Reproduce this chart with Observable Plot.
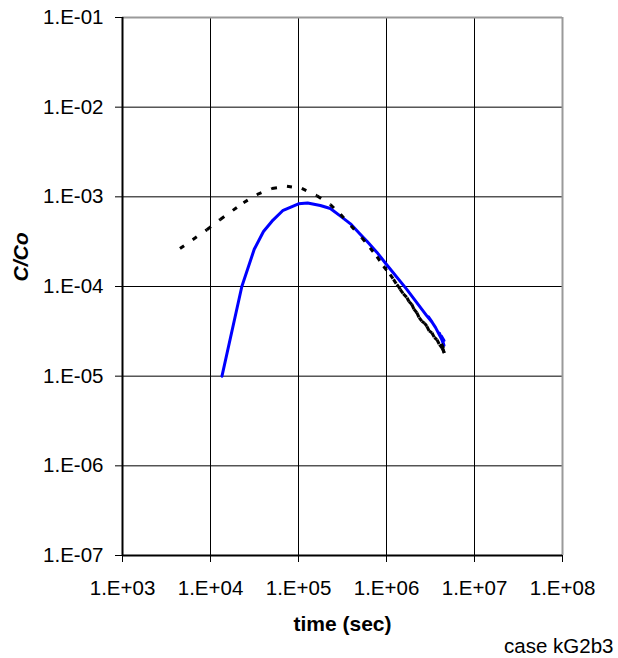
<!DOCTYPE html>
<html>
<head>
<meta charset="utf-8">
<script src="https://cdn.jsdelivr.net/npm/d3@7"></script>
<script src="https://cdn.jsdelivr.net/npm/@observablehq/plot@0.6"></script>
<style>
  body { margin: 0; background: #fff; }
  #chart svg { display: block; }
</style>
</head>
<body>
<div id="chart"></div>
<script>
// Axis ticks and their spreadsheet-style labels
const xTicks = [1e3, 1e4, 1e5, 1e6, 1e7, 1e8];
const xTickLabels = ["1.E+03", "1.E+04", "1.E+05", "1.E+06", "1.E+07", "1.E+08"];
const yTicks = [1e-7, 1e-6, 1e-5, 1e-4, 1e-3, 1e-2, 1e-1];
const yTickLabels = ["1.E-07", "1.E-06", "1.E-05", "1.E-04", "1.E-03", "1.E-02", "1.E-01"];

// Breakthrough curve, solid blue series (time in s, relative concentration)
const solidTime = [1.35e4, 2.27e4, 3.14e4, 4.0e4, 5.0e4, 6.6e4, 1.0e5, 1.27e5, 1.77e5, 2.3e5,
  3.0e5, 3.9e5, 5.0e5, 6.0e5, 7.8e5, 1.0e6, 1.7e6, 2.87e6, 3.3e6, 3.0e6, 3.6e6, 4.4e6,
  4.0e6, 4.5e6, 4.2e6, 4.5e6];
const solidConc = [1.0e-5, 1.0e-4, 2.6e-4, 4.1e-4, 5.35e-4, 7.0e-4, 8.35e-4, 8.55e-4, 8.0e-4, 7.4e-4,
  6.1e-4, 5.0e-4, 3.85e-4, 3.2e-4, 2.4e-4, 1.76e-4, 9.3e-5, 4.7e-5, 4.0e-5, 4.6e-5, 3.5e-5, 2.4e-5,
  3.0e-5, 2.2e-5, 2.8e-5, 2.5e-5];

// Breakthrough curve, dashed black series (dense, noisy samples at late time)
const dashedTime = [4.5e3, 9.1e3, 1.29e4, 2.37e4, 3.36e4, 5.0e4, 7.4e4, 1.09e5, 1.62e5, 2.3e5,
  3.0e5, 5.25e5, 6.5e5, 7.8e5, 9.25e5, 1.10e6, 1.20e6, 1.31e6, 1.37e6, 1.43e6, 1.55e6, 1.71e6,
  1.80e6, 1.94e6, 2.05e6, 2.21e6, 2.35e6, 2.52e6, 2.70e6, 2.88e6, 3.05e6, 3.28e6, 3.50e6, 3.74e6,
  4.0e6, 4.27e6, 4.4e6, 4.53e6, 4.2e6, 4.5e6];
const dashedConc = [2.65e-4, 4.3e-4, 5.6e-4, 8.6e-4, 1.06e-3, 1.24e-3, 1.31e-3, 1.24e-3, 1.03e-3, 8.2e-4,
  6.4e-4, 3.5e-4, 2.7e-4, 2.15e-4, 1.68e-4, 1.36e-4, 1.2e-4, 1.05e-4, 1.0e-4, 9.3e-5, 8.3e-5, 7.5e-5,
  6.8e-5, 6.3e-5, 5.6e-5, 5.1e-5, 4.5e-5, 4.1e-5, 3.9e-5, 3.6e-5, 3.2e-5, 3.05e-5, 2.7e-5, 2.56e-5,
  2.25e-5, 2.07e-5, 1.95e-5, 1.81e-5, 2.3e-5, 2.0e-5];

const solid = solidTime.map((t, i) => ({t, c: solidConc[i]}));
// the dash pattern restarts on every segment, so each segment is its own link
const dashedSegments = dashedTime.slice(1).map((t, i) => ({
  t1: dashedTime[i], c1: dashedConc[i], t2: t, c2: dashedConc[i + 1]
}));

const xLabel = new Map(xTicks.map((v, i) => [v, xTickLabels[i]]));
const yLabel = new Map(yTicks.map((v, i) => [v, yTickLabels[i]]));

const font = "'Liberation Sans', Arial, sans-serif";

const chart = Plot.plot({
  width: 618,
  height: 658,
  marginTop: 17,
  marginLeft: 122,
  marginRight: 56,
  marginBottom: 103,
  style: {fontFamily: font, fontSize: "20.5px", color: "#000", background: "#fff", overflow: "visible"},
  x: {type: "log", domain: [1e3, 1e8]},
  y: {type: "log", domain: [1e-7, 1e-1]},
  marks: [
    // interior grid
    Plot.ruleX(xTicks.slice(1, -1), {stroke: "#000", strokeWidth: 1}),
    Plot.ruleY(yTicks.slice(1, -1), {stroke: "#000", strokeWidth: 1}),
    // plot-area border: grey top/right, black axes left/bottom
    Plot.ruleY([1e-1], {stroke: "#9a9a9a", strokeWidth: 2}),
    Plot.ruleX([1e8], {stroke: "#9a9a9a", strokeWidth: 2}),
    Plot.ruleX([1e3], {stroke: "#000", strokeWidth: 2}),
    Plot.ruleY([1e-7], {stroke: "#000", strokeWidth: 2}),
    // axes
    Plot.axisX(xTicks, {tickFormat: d => xLabel.get(d), tickSize: 7, tickPadding: 18, label: null, fontSize: 20.5}),
    Plot.axisY(yTicks, {tickFormat: d => yLabel.get(d), tickSize: 7, tickPadding: 12, label: null, fontSize: 20.5}),
    // series
    Plot.line(solid, {x: "t", y: "c", stroke: "#0000ff", strokeWidth: 3, curve: "linear"}),
    Plot.link(dashedSegments, {x1: "t1", y1: "c1", x2: "t2", y2: "c2", stroke: "#000", strokeWidth: 3, strokeDasharray: "5,10.5"}),
    // titles
    Plot.text(["time (sec)"], {frameAnchor: "bottom", lineAnchor: "bottom", dy: 75, fontWeight: "bold", fontSize: 21}),
    Plot.text(["C/Co"], {frameAnchor: "left", rotate: -90, dx: -101, dy: -5, fontWeight: "bold", fontStyle: "italic", fontSize: 21}),
    Plot.text(["case kG2b3"], {frameAnchor: "bottom-right", textAnchor: "end", lineAnchor: "bottom", dx: 51, dy: 97, fontSize: 20.5})
  ]
});

document.getElementById("chart").append(chart);
</script>
</body>
</html>
